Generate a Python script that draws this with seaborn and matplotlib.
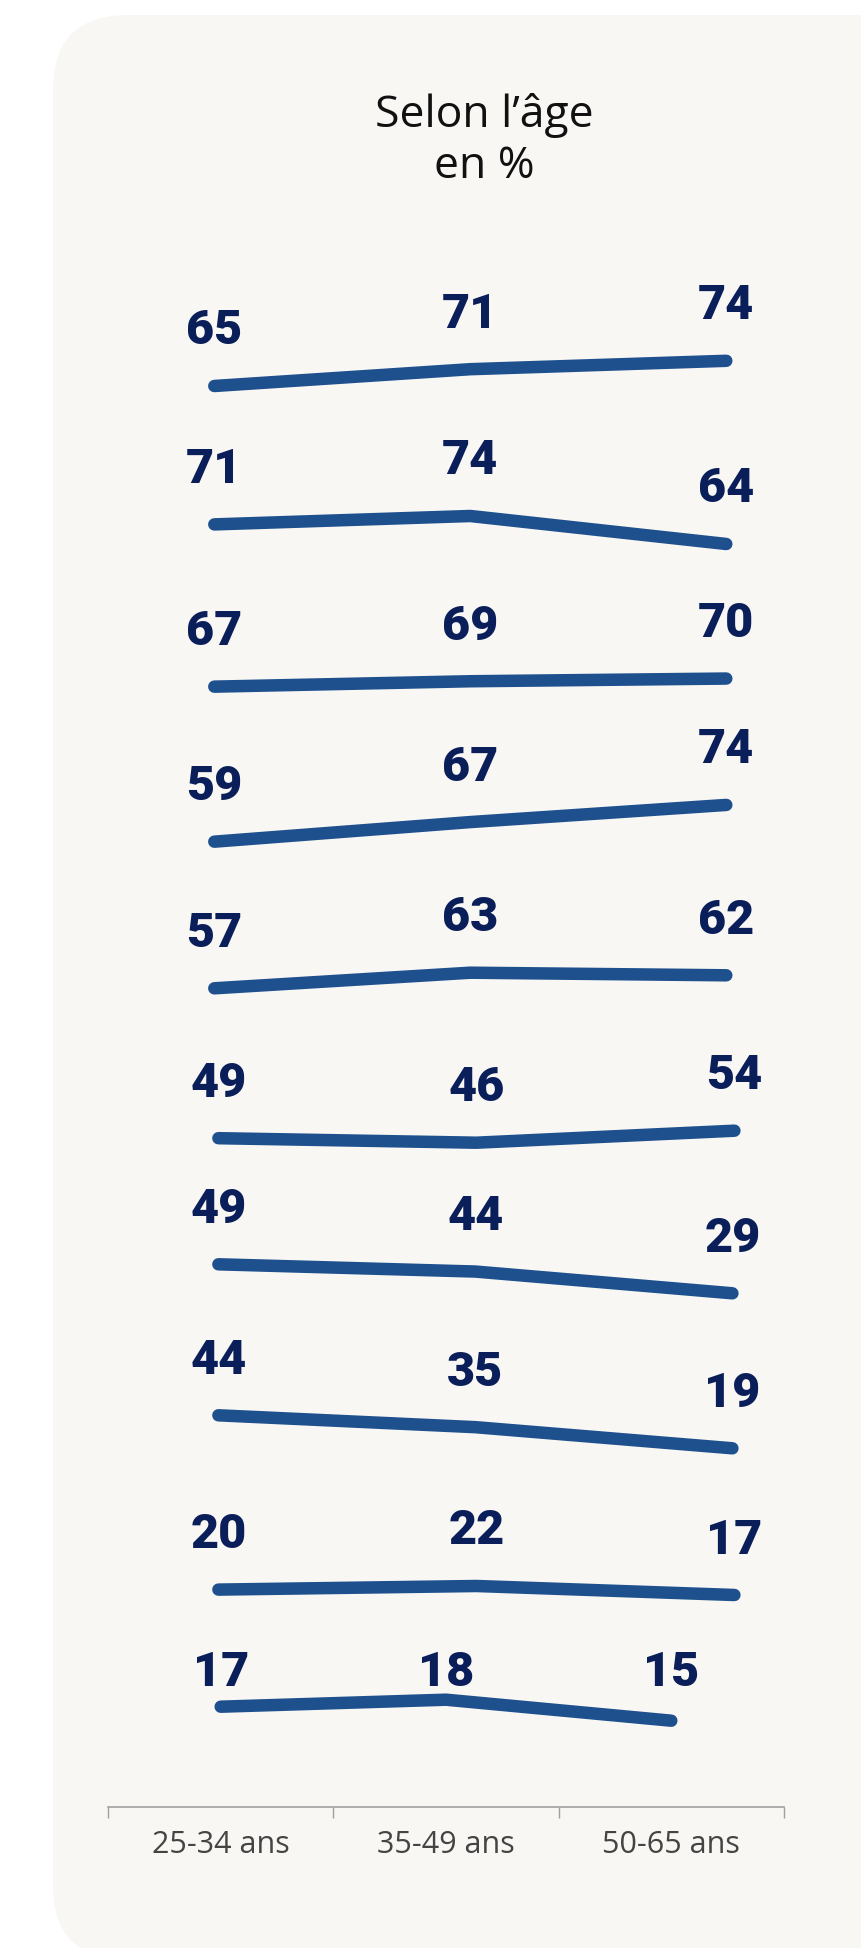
import matplotlib
matplotlib.use("Agg")
import matplotlib.pyplot as plt
from matplotlib.patches import FancyBboxPatch
from matplotlib.transforms import IdentityTransform
import seaborn as sns
import pandas as pd

# ---------------- data ----------------
TITLE_LINE1 = "Selon l’âge"
TITLE_LINE2 = "en %"
AGES = ["25-34 ans", "35-49 ans", "50-65 ans"]
ROW1 = [65, 71, 74]
ROW2 = [71, 74, 64]
ROW3 = [67, 69, 70]
ROW4 = [59, 67, 74]
ROW5 = [57, 63, 62]
ROW6 = [49, 46, 54]
ROW7 = [49, 44, 29]
ROW8 = [44, 35, 19]
ROW9 = [20, 22, 17]
ROW10 = [17, 18, 15]
ROWS = [ROW1, ROW2, ROW3, ROW4, ROW5, ROW6, ROW7, ROW8, ROW9, ROW10]

# ---------------- layout (pixels, from top-left) ----------------
W, H = 862, 1948
DPI = 100
ROW_MID_PX = [373.4, 530, 682.6, 823.3, 980.5, 1136.7, 1278.8, 1431.8, 1590.5, 1710.2]
ROW_PX_PER_PT = [2.8, 2.8, 2.7, 2.45, 2.6, 1.5, 1.45, 1.32, 1.8, 7.0]
ROW_X0 = [214.3] * 5 + [218.4] * 4 + [220.7]
ROW_DX = [256] * 5 + [258, 257, 257, 258] + [225.3]
ROW_HALF_H = 60
AXIS_Y_PX = 1806.7
LAST_TOP_PX = 1640
LAST_LABEL_BASELINE_PX = 1686
LABEL_OFFSET_PX = 41.5

LINE_COLOR = "#1E508E"
LABEL_COLOR = "#0A1E5A"
PANEL_COLOR = "#F8F7F4"

sns.set_theme(style="white")
plt.rcParams["font.family"] = ["Open Sans", "DejaVu Sans"]

fig = plt.figure(figsize=(W / DPI, H / DPI), dpi=DPI)
fig.patch.set_facecolor("white")

panel = FancyBboxPatch((53, H - 1960), 900, 1960 - 15,
                       boxstyle="round,pad=0,rounding_size=75",
                       transform=IdentityTransform(),
                       facecolor=PANEL_COLOR, edgecolor="none", zorder=-10)
fig.patches.append(panel)

fig.text(484 / W, 1 - 127 / H, TITLE_LINE1, ha="center", va="baseline",
         fontsize=32, color="#111111")
fig.text(484 / W, 1 - 178 / H, TITLE_LINE2, ha="center", va="baseline",
         fontsize=32, color="#111111")

n = len(ROWS)
for r, vals in enumerate(ROWS):
    s = ROW_PX_PER_PT[r]
    mid = ROW_MID_PX[r]
    c = (min(vals) + max(vals)) / 2
    last = (r == n - 1)
    if last:
        top_px, bot_px = LAST_TOP_PX, AXIS_Y_PX
    else:
        top_px, bot_px = mid - ROW_HALF_H, mid + ROW_HALF_H
    dx = ROW_DX[r]
    left_px = ROW_X0[r] - 0.5 * dx
    ax = fig.add_axes([left_px / W, 1 - bot_px / H, 3 * dx / W, (bot_px - top_px) / H])
    ax.set_facecolor("none")
    ax.set_zorder(1)
    df = pd.DataFrame({"age": AGES, "val": vals})
    sns.lineplot(data=df, x="age", y="val", ax=ax, sort=False, color=LINE_COLOR,
                 linewidth=9, solid_capstyle="round", solid_joinstyle="round")
    ax.set_xlim(-0.5, 2.5)
    ax.set_ylim(c - (bot_px - mid) / s, c + (mid - top_px) / s)
    ax.set_xlabel("")
    ax.set_ylabel("")
    ax.set_yticks([])
    for sp in ["top", "right", "left"]:
        ax.spines[sp].set_visible(False)
    for i, v in enumerate(vals):
        if last:
            ylab = c + (mid - LAST_LABEL_BASELINE_PX) / s
            ax.text(i, ylab, str(v), ha="center", va="baseline",
                    fontsize=35, fontweight="heavy", color=LABEL_COLOR,
                    family=["Roboto", "DejaVu Sans"], clip_on=False)
        else:
            ax.annotate(str(v), (i, v), xytext=(0, LABEL_OFFSET_PX),
                        textcoords="offset pixels", ha="center", va="baseline",
                        fontsize=35, fontweight="heavy", color=LABEL_COLOR,
                        family=["Roboto", "DejaVu Sans"], annotation_clip=False)
    if last:
        ax.spines["bottom"].set_color("#A0A0A0")
        ax.spines["bottom"].set_linewidth(1.2)
        ax.set_xticks([0, 1, 2])
        ax.set_xticklabels(AGES, fontsize=22, color="#444444")
        ax.set_xticks([-0.5, 0.5, 1.5, 2.5], minor=True)
        ax.tick_params(axis="x", which="major", length=0, pad=17)
        ax.tick_params(axis="x", which="minor", length=8, width=1.0,
                       color="#A0A0A0", direction="out", bottom=True)
    else:
        ax.spines["bottom"].set_visible(False)
        ax.set_xticks([])

fig.savefig("out.png", dpi=DPI, facecolor=fig.get_facecolor())
